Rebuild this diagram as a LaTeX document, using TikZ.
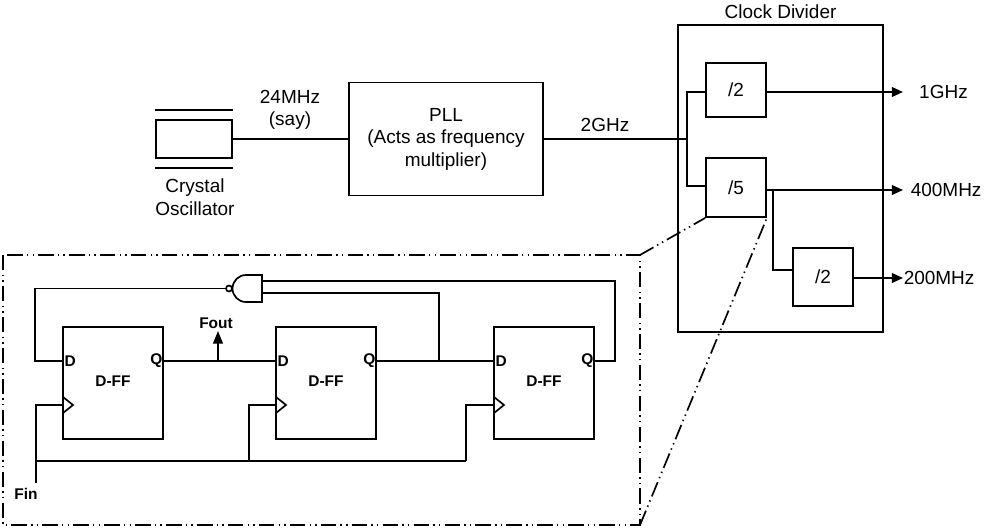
\documentclass[tikz,border=0pt]{standalone}
\usepackage{fontspec}
\setmainfont{Liberation Sans}
\usetikzlibrary{calc, arrows.meta}
\tikzset{
  blk/.style={draw, line width=1.2, inner sep=0},
  lbl/.style={font=\fontsize{13.5}{16}\selectfont, align=center},
  pin/.style={font=\fontsize{11}{13}\bfseries},
  wire/.style={line width=1.2},
  outwire/.style={wire, -{Triangle[length=8pt, width=7pt]}},
  frame/.style={line width=1.2, dash pattern=on 11pt off 3pt on 1pt off 3pt on 1pt off 3pt},
}
\begin{document}
\begin{tikzpicture}[x=0.025cm, y=-0.025cm]
  \useasboundingbox (0, 0) rectangle (998, 528);

  % crystal and pll
  \node[blk, minimum width=1.9cm, minimum height=0.95cm] (xtal) at (194, 139) {};
  \draw[wire] (155, 110) -- (233, 110);
  \draw[wire] (155, 168) -- (233, 168);
  \node[lbl] (xtaltxt) at (195, 197) {Crystal\\Oscillator};
  \node[blk, lbl, minimum width=4.85cm, minimum height=2.82cm] (pll) at (446, 139)
    {PLL\\(Acts as frequency\\multiplier)};
  \draw[wire] (xtal.east) -- (pll.west);
  \node[lbl] (inf) at (290, 110) {24MHz\\(say)};

  % clock divider
  \node[blk, minimum width=5.12cm, minimum height=7.68cm] (cdiv) at (780.5, 178.5) {};
  \node[lbl, above] (cdivtxt) at (cdiv.north) {Clock Divider};
  \node[blk, lbl, minimum width=1.5cm, minimum height=1.35cm] (div2) at (736, 90) {/2};
  \node[blk, lbl, minimum width=1.5cm, minimum height=1.48cm] (div5) at (736, 187.5) {/5};
  \node[blk, lbl, minimum width=1.5cm, minimum height=1.45cm] (div2b) at (823, 277) {/2};
  \coordinate (split) at (687, 139);
  \draw[wire] (pll.east) -- (split);
  \node[lbl] (pllout) at (605, 125) {2GHz};
  \draw[wire] (split) |- (div2.west |- 0, 92);
  \draw[wire] (split) |- (div5.west |- 0, 186);
  \coordinate (o1) at (903, 92);
  \coordinate (o2) at (903, 190);
  \coordinate (o3) at (903, 278);
  \draw[outwire] (div2.east |- o1) -- (o1);
  \draw[outwire] (div5.east |- o2) -- (o2);
  \draw[wire] (773, 190) |- (div2b.west |- 0, 270);
  \draw[outwire] (div2b.east |- o3) -- (o3);
  \node[lbl, right] (f1) at ([xshift=8pt]o1) {1GHz};
  \node[lbl, right] (f2) at ([xshift=2pt]o2) {400MHz};
  \node[lbl, right] (f3) at ([xshift=-3pt]o3) {200MHz};

  % zoom frame
  \draw[frame] (3, 255) rectangle (640, 525);
  \draw[frame] (640, 255) -- (div5.south west) (640, 525) -- (div5.south east);

  % counter
  \foreach \n/\x in {1/113, 2/326, 3/544} {
    \node[blk, minimum width=2.5cm, minimum height=2.8cm] (ff\n) at (\x, 383) {};
    \node[pin] at (\x, 381) {D-FF};
    \node[pin, right, inner sep=1pt] at (\x-50, 361) {D};
    \node[pin, left, inner sep=1pt] at (\x+51, 361) {Q};
    \draw[wire] (\x-50, 397) -- (\x-40, 405) -- (\x-50, 413);
  }
  \draw[wire] (ff1.east |- 0, 361) -- (ff2.west |- 0, 361);
  \draw[wire] (ff2.east |- 0, 361) -- (ff3.west |- 0, 361);
  \coordinate (fout) at (218, 361);
  \draw[wire, -{Triangle[length=9pt, width=7pt]}] (fout) -- ++(0, -30);
  \node[pin] (fouttxt) at (216, 323) {Fout};

  % nand feedback
  \draw[wire] (262, 275) -- (246, 275) arc (270:90:13.5) -- (262, 302) -- cycle;
  \draw[wire] (229, 288.5) circle (3);
  \draw[wire] (226, 288.5) -| (35, 361) -- (ff1.west |- 0, 361);
  \draw[wire] (262, 281) -- (615, 281) |- (ff3.east |- 0, 361);
  \draw[wire] (262, 293) -- (439, 293) -- (439, 361);

  % clock
  \coordinate (fin) at (36, 483);
  \node[pin] (fintxt) at (26, 494) {Fin};
  \draw[wire] (fin) |- (ff1.west |- 0, 405);
  \draw[wire] (36, 461) -- (466, 461);
  \draw[wire] (249, 461) |- (ff2.west |- 0, 405);
  \draw[wire] (466, 461) |- (ff3.west |- 0, 405);
\end{tikzpicture}
\end{document}
